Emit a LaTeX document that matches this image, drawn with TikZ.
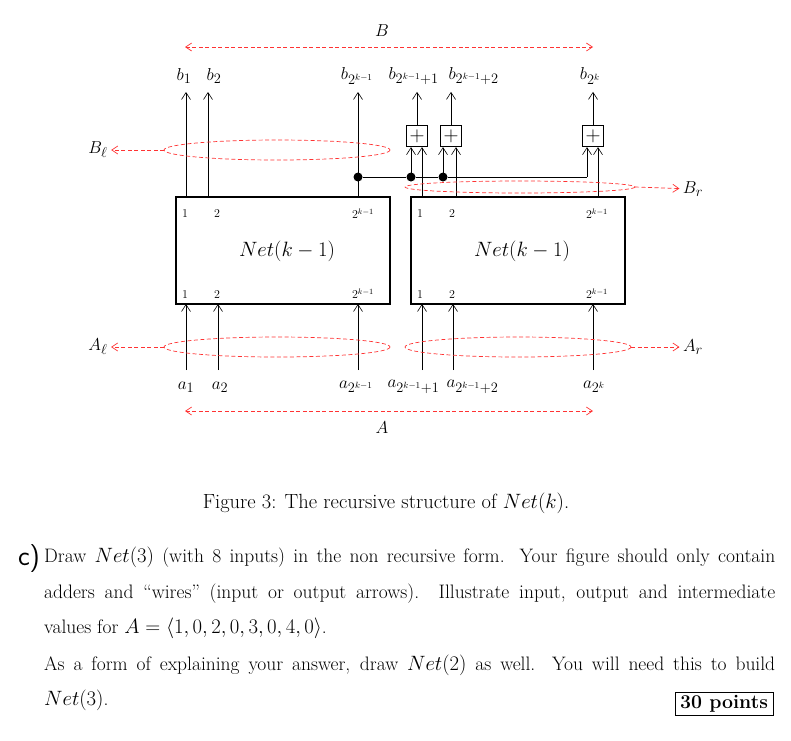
\documentclass[tikz,border=0pt]{standalone}
\usetikzlibrary{arrows.meta}
\begin{document}
\begin{tikzpicture}[x=1pt,y=-1pt,
 tip/.style={-{Straight Barb[length=7pt,width=9pt]}},
 wire/.style={tip,line width=0.6pt},
 rd/.style={draw=red!80,dash pattern=on 4pt off 2.5pt,line width=0.7pt},
 rdtip/.style={rd,-{Straight Barb[length=6pt,width=8pt]}},
 netbox/.style={draw,line width=1.3pt,minimum width=214pt,minimum height=107pt,inner sep=0pt},
 adder/.style={draw,line width=1.3pt,minimum size=21pt,inner sep=0pt,font=\fontsize{20}{20}\selectfont},
 dot/.style={circle,fill,inner sep=0pt,minimum size=9pt},
 sm/.style={font=\fontsize{12}{14}\selectfont},
 lab/.style={font=\fontsize{19}{20}\selectfont}]
\useasboundingbox (0,0) rectangle (791,740);
% boxes
\node[netbox] (L) at (283,250.5) {};
\node[netbox] (R) at (518,250.5) {};
\node[font=\fontsize{21}{22}\selectfont] (Ln) at (287,251) {$Net(k-1)$};
\node[font=\fontsize{21}{22}\selectfont] (Rn) at (522,251) {$Net(k-1)$};
\foreach \n/\x/\t in {l1/185/1,l2/217/2,r1/420/1,r2/452/2}{
 \node[sm] (t\n) at (\x,214) {\t};
 \node[sm] (u\n) at (\x,294) {\t};}
\node[sm] (tl3) at (363,214) {$2^{k-1}$};
\node[sm] (ul3) at (363,294) {$2^{k-1}$};
\node[sm] (tr3) at (597,214) {$2^{k-1}$};
\node[sm] (ur3) at (597,294) {$2^{k-1}$};
% inputs
\foreach \n/\x in {a1/186,a2/218,a3/358,a4/422,a5/453,a6/593}{
 \coordinate (s\n) at (\x,370);
 \coordinate (e\n) at (\x,304);
 \draw[wire] (s\n) -- (e\n);}
\node[lab] (la1) at (186,387) {$a_1$};
\node[lab] (la2) at (220,387) {$a_2$};
\node[lab] (la3) at (356,387) {$a_{2^{k-1}}$};
\node[lab,anchor=west] (la4) at (384,387) {$a_{2^{k-1}+1}$};
\node[lab,anchor=west] (la5) at (443,387) {$a_{2^{k-1}+2}$};
\node[lab] (la6) at (594,387) {$a_{2^k}$};
% left outputs
\coordinate (o1) at (186,197); \coordinate (o2) at (208,197); \coordinate (o3) at (358,197);
\coordinate (p1) at (186,92); \coordinate (p2) at (208,92); \coordinate (p3) at (358,92);
\draw[wire] (o1) -- (p1); \draw[wire] (o2) -- (p2); \draw[wire] (o3) -- (p3);
\node[lab] (lb1) at (184,76) {$b_1$};
\node[lab] (lb2) at (214,76) {$b_2$};
\node[lab] (lb3) at (357,76) {$b_{2^{k-1}}$};
\node[lab,anchor=west] (lb4) at (385,76) {$b_{2^{k-1}+1}$};
\node[lab,anchor=west] (lb5) at (445,76) {$b_{2^{k-1}+2}$};
\node[lab] (lb6) at (590,76) {$b_{2^k}$};
% adders
\node[adder] (A1) at (417,136) {$+$};
\node[adder] (A2) at (451,136) {$+$};
\node[adder] (A3) at (593,136) {$+$};
\foreach \a in {A1,A2,A3}{ \draw[wire] (\a.north) -- ++(0,-33); }
% dots and bus
\node[dot] (d1) at (358,177) {};
\node[dot] (d2) at (411,177) {};
\node[dot] (d3) at (443,177) {};
\coordinate (bend) at (587,177);
\draw[line width=0.6pt] (d1) -- (d2) -- (d3) -- (bend);
\draw[wire] (d2.center) -- (d2.center |- A1.south);
\draw[wire] (d3.center) -- (d3.center |- A2.south);
\draw[wire] (bend) -- (bend |- A3.south);
\coordinate (r1) at (422,197); \coordinate (r2) at (456,197); \coordinate (r3) at (598,197);
\draw[wire] (r1) -- (r1 |- A1.south);
\draw[wire] (r2) -- (r2 |- A2.south);
\draw[wire] (r3) -- (r3 |- A3.south);
% red ellipses
\draw[rd] (277,150) ellipse (113 and 10);
\draw[rd] (520,187) ellipse (115 and 6);
\draw[rd] (277,347) ellipse (113 and 10);
\draw[rd] (518,347) ellipse (113 and 10);
\node[lab] (Bl) at (98,150) {$B_\ell$};
\node[lab] (Br) at (693,189) {$B_r$};
\node[lab] (Al) at (98,347) {$A_\ell$};
\node[lab] (Ar) at (693,347) {$A_r$};
\draw[rdtip] (164,150) -- (Bl);
\draw[rdtip] (635,187) -- (Br);
\draw[rdtip] (164,347) -- (Al);
\draw[rdtip] (631,347) -- (Ar);
\coordinate (B0) at (185,47); \coordinate (B1) at (593,47);
\coordinate (A0) at (185,411); \coordinate (A1c) at (593,411);
\draw[rdtip,{Straight Barb[length=6pt,width=8pt]}-{Straight Barb[length=6pt,width=8pt]}] (B0) -- (B1);
\draw[rdtip,{Straight Barb[length=6pt,width=8pt]}-{Straight Barb[length=6pt,width=8pt]}] (A0) -- (A1c);
\node[lab] (Bt) at (382,31) {$B$};
\node[lab] (At) at (382,428) {$A$};
% caption and text
\node[font=\fontsize{20.5}{22}\selectfont] (cap) at (386,503) {Figure 3: The recursive structure of $Net(k)$.};
\node[font=\fontsize{28}{30}\selectfont\sffamily] (c) at (29,558) {c)};
\node[anchor=north west,inner sep=0pt,text width=731pt,align=justify,font=\fontsize{19.5}{35.5}\selectfont] (par) at (44,547)
 {Draw $Net(3)$ (with 8 inputs) in the non recursive form. Your figure should only contain\linebreak adders and ``wires'' (input or output arrows). Illustrate input, output and intermediate\linebreak values for $A=\langle 1,0,2,0,3,0,4,0\rangle$.\par\vspace{1pt}
 As a form of explaining your answer, draw $Net(2)$ as well. You will need this to build\linebreak $Net(3)$.};
\node[draw,line width=0.8pt,font=\fontsize{19.5}{20}\selectfont\bfseries,inner sep=3pt,minimum width=98pt] (pts) at (724,704) {30 points};
\end{tikzpicture}
\end{document}
